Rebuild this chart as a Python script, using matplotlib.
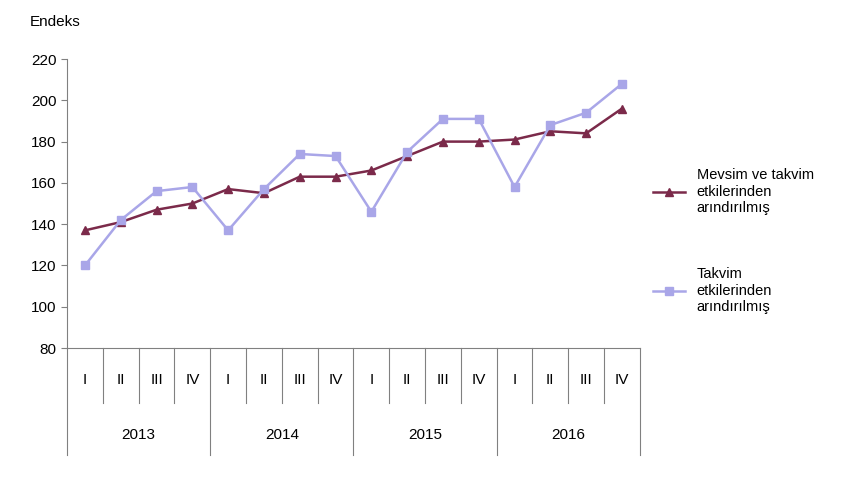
import matplotlib
matplotlib.use("Agg")
import matplotlib.pyplot as plt
from matplotlib.lines import Line2D

plt.rcParams['font.family'] = ['Liberation Sans', 'DejaVu Sans']

quarters = ["I", "II", "III", "IV"] * 4
years = ["2013", "2014", "2015", "2016"]
seasonal = [137, 141, 147, 150, 157, 155, 163, 163, 166, 173, 180, 180, 181, 185, 184, 196]
calendar = [120, 142, 156, 158, 137, 157, 174, 173, 146, 175, 191, 191, 158, 188, 194, 208]

fig = plt.figure(figsize=(8.6, 4.8), dpi=100)
ax = fig.add_axes([0.078, 0.275, 0.666, 0.602])
x = list(range(len(quarters)))
ax.plot(x, seasonal, color='#7B2A4A', marker='^', markersize=6, lw=1.8,
        label='Mevsim ve takvim\netkilerinden\narındırılmış')
ax.plot(x, calendar, color='#A9A6E8', marker='s', markersize=6, lw=1.8,
        label='Takvim\netkilerinden\narındırılmış')
ax.set_xlim(-0.5, 15.5)
ax.set_ylim(80, 220)
ax.set_yticks(range(80, 221, 20))
ax.set_xticks([])
for s in ['top', 'right']:
    ax.spines[s].set_visible(False)
ax.spines['left'].set_color('#808080')
ax.spines['bottom'].set_color('#808080')
ax.tick_params(axis='y', labelsize=11, length=4, color='#808080')

tr = ax.get_xaxis_transform()
for i, q in enumerate(quarters):
    ax.text(i, -0.11, q, transform=tr, ha='center', va='center', fontsize=11)
for b in range(17):
    xb = b - 0.5
    low = -0.37 if b % 4 == 0 else -0.19
    ax.add_line(Line2D([xb, xb], [0, low], transform=tr, color='#808080', lw=0.8, clip_on=False))
for k, y in enumerate(years):
    ax.text(4 * k + 1.5, -0.30, y, transform=tr, ha='center', va='center', fontsize=11)

fig.text(0.035, 0.955, 'Endeks', fontsize=11, va='center')
ax.legend(loc='center left', bbox_to_anchor=(1.0, 0.37), frameon=False, fontsize=10.5,
          handlelength=2.2, labelspacing=3.6)
fig.savefig('out.png', dpi=100)
